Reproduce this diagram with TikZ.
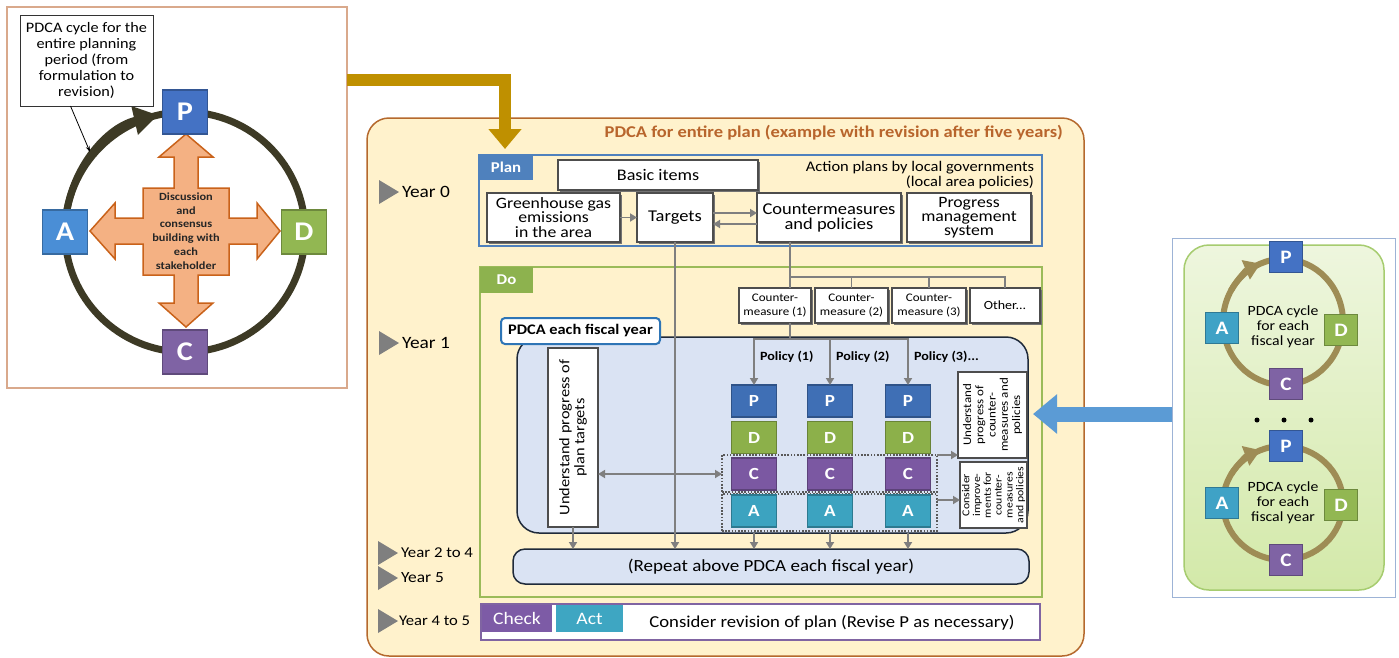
\documentclass[tikz,border=0pt]{standalone}
\usepackage{fontspec}
\setmainfont{Carlito}[FakeStretch=1.12]
\usetikzlibrary{arrows.meta,calc,shadows}
\newcommand{\myfs}[2]{\fontsize{#1}{#2}\selectfont}
\definecolor{lpborder}{HTML}{D9A98C}
\definecolor{cyccol}{HTML}{3D3A25}
\definecolor{lpcol}{HTML}{4472C4}
\definecolor{lacol}{HTML}{4A8ED6}
\definecolor{ldcol}{HTML}{92B752}
\definecolor{lccol}{HTML}{7F63A4}
\definecolor{orfill}{HTML}{F4B183}
\definecolor{orline}{HTML}{C9621A}
\definecolor{goldcol}{HTML}{BF9000}
\definecolor{panelbg}{HTML}{FFF2CC}
\definecolor{panelline}{HTML}{B5692D}
\definecolor{titlecol}{HTML}{B8652C}
\definecolor{planblue}{HTML}{4F81BD}
\definecolor{dogreen}{HTML}{9BBB59}
\definecolor{dotabcol}{HTML}{8DB24E}
\definecolor{innerfill}{HTML}{DAE3F3}
\definecolor{innerline}{HTML}{1F2A3A}
\definecolor{labelblue}{HTML}{2E75B6}
\definecolor{chkline}{HTML}{8064A2}
\definecolor{chktab}{HTML}{7D5BA6}
\definecolor{acttab}{HTML}{3EA6C2}
\definecolor{arrgray}{HTML}{7F7F7F}
\definecolor{boxline}{HTML}{4D4D4D}
\definecolor{pcol}{HTML}{3F6FB5}
\definecolor{dcol}{HTML}{8CB04A}
\definecolor{ccol}{HTML}{7B58A2}
\definecolor{acol}{HTML}{3CA3C0}
\definecolor{trigray}{HTML}{7F7F7F}
\definecolor{bluearr}{HTML}{5B9BD5}
\definecolor{routline}{HTML}{9DB3D6}
\definecolor{rgreenline}{HTML}{A6CC6F}
\definecolor{rgtop}{HTML}{EEF6DE}
\definecolor{rgbot}{HTML}{D3E9A9}
\definecolor{rcyccol}{HTML}{9E8C55}
\definecolor{racol}{HTML}{3FA2C6}
\tikzset{
 every node/.style={inner sep=0pt, outer sep=0pt},
 wbox/.style={draw=boxline, fill=white, line width=1.2pt, align=center},
 shbox/.style={wbox, drop shadow={shadow xshift=1.5pt, shadow yshift=-1.5pt, fill=black!55, opacity=1}},
 garrow/.style={draw=arrgray, line width=1.8pt, -{Triangle[length=7pt,width=8pt]}},
 gdarrow/.style={draw=arrgray, line width=1.8pt, {Triangle[length=7pt,width=8pt]}-{Triangle[length=7pt,width=8pt]}},
 gline/.style={draw=arrgray, line width=1.8pt},
 bigsq/.style={minimum width=45pt, minimum height=44pt, text=white, font=\bfseries\myfs{27}{27}, line width=1.5pt},
 colsq/.style={minimum width=45pt, minimum height=32pt, text=white, font=\bfseries\myfs{17}{17}, line width=1.2pt},
 rsq/.style={minimum width=33pt, minimum height=31pt, text=white, font=\bfseries\myfs{19}{19}, line width=1.2pt},
 tabbox/.style={anchor=north west, text=white, font=\myfs{15}{15}},
 yearlbl/.style={anchor=west, font=\myfs{17.3}{17}},
 dotbox/.style={draw=arrgray!70!black, line width=1.6pt, dash pattern=on 1.6pt off 1.6pt, minimum width=215pt, minimum height=37pt},
 cyctext/.style={align=center, font=\myfs{14.1}{15}},
 yeartri/.pic={\fill[trigray] (0,-12) -- (20,0) -- (0,12) -- cycle;},
}
\begin{document}
\begin{tikzpicture}[x=1pt,y=-1pt]
\useasboundingbox (0,0) rectangle (1399,657);

% ---------------- left panel ----------------
\node[draw=lpborder, line width=1.5pt, minimum width=340pt, minimum height=381pt] (leftpanel) at (177,197.5) {};
\draw[cyccol, line width=7pt] (185,232) circle [radius=120pt];
\draw[cyccol, line width=7pt, -{Triangle[length=24pt,width=28pt]}] (65,232) arc[start angle=180, end angle=103, radius=120pt];
\filldraw[fill=orfill, draw=orline, line width=1.5pt]
 (186,134) -- (213,157) -- (198,157) -- (198,188) -- (229,188) -- (229,218) -- (257,218) -- (257,203) -- (280,231)
 -- (257,259) -- (257,244) -- (229,244) -- (229,275) -- (198,275) -- (198,303) -- (213,303) -- (186,327)
 -- (159,303) -- (174,303) -- (174,275) -- (143,275) -- (143,244) -- (115,244) -- (115,259) -- (90,231)
 -- (115,203) -- (115,218) -- (143,218) -- (143,188) -- (174,188) -- (174,157) -- (159,157) -- cycle;
\node[align=center, font=\bfseries\myfs{11}{13.8}, text=black!85] (discuss) at (186,231) {Discussion\\and\\consensus\\building with\\each\\stakeholder};
\node[bigsq, fill=lpcol, draw=lpcol!75!black] (lp) at (185,112) {P};
\node[bigsq, fill=ldcol, draw=ldcol!75!black] (ld) at (304,232) {D};
\node[bigsq, fill=lccol, draw=lccol!75!black] (lc) at (185,352) {C};
\node[bigsq, fill=lacol, draw=lacol!75!black] (la) at (65,232) {A};
\node[draw=black!80, fill=white, line width=1pt, minimum width=133pt, minimum height=91pt, align=center, font=\myfs{14.5}{16}] (callout) at (86.5,60.5) {PDCA cycle for the\\entire planning\\period (from\\formulation to\\revision)};
\coordinate (calltip) at (90,152);
\draw[black, line width=0.8pt, -{Stealth[length=6pt,width=4pt]}] ([xshift=-16pt]callout.south) -- (calltip);

% ---------------- main panel ----------------
\node[draw=panelline, fill=panelbg, line width=1.5pt, rounded corners=22pt, minimum width=717pt, minimum height=538pt] (mainpanel) at (725.5,387) {};
\coordinate (goldstart) at (347,80);
\coordinate (goldtip) at (505,149);
\draw[goldcol, line width=12pt, -{Triangle[length=20pt,width=32pt]}] (goldstart) -| (goldtip);
\node[anchor=east, font=\bfseries\myfs{16.5}{18}, text=titlecol] (title) at (1063,133) {PDCA for entire plan (example with revision after five years)};

% year labels
\pic at (379,192) {yeartri};
\node[yearlbl] (y0) at (402,192) {Year 0};
\pic at (379,343) {yeartri};
\node[yearlbl] (y1) at (402,343) {Year 1};
\pic at (378,553) {yeartri};
\node[yearlbl, font=\myfs{15}{16}] (y24) at (401,553) {Year 2 to 4};
\pic at (378,578) {yeartri};
\node[yearlbl, font=\myfs{15.5}{16}] (y5) at (401,578) {Year 5};
\pic at (378,621) {yeartri};
\node[yearlbl, font=\myfs{14.8}{16}] (y45) at (399,621) {Year 4 to 5};

% ---------------- plan ----------------
\node[draw=planblue, line width=2.5pt, minimum width=563pt, minimum height=91pt] (planbox) at (760.5,200.5) {};
\node[tabbox, fill=planblue, minimum width=54pt, minimum height=25pt, font=\bfseries\myfs{15}{15}] (plantab) at (479,155) {Plan};
\node[shbox, minimum width=200pt, minimum height=30pt, font=\myfs{16.2}{17}] (basic) at (658,175) {Basic items};
\node[anchor=north east, align=right, font=\myfs{14.7}{15}] (actplans) at (1034,161) {Action plans by local governments\\(local area policies)};
\node[shbox, minimum width=133pt, minimum height=49pt, font=\myfs{15.8}{14.3}] (ghg) at (553.5,217.5) {Greenhouse gas\\emissions\\in the area};
\node[shbox, minimum width=76pt, minimum height=49pt, font=\myfs{16.5}{14}] (targets) at (675,217.5) {Targets};
\node[shbox, minimum width=144pt, minimum height=49pt, font=\myfs{16.5}{15}] (cm) at (829,217.5) {Countermeasures\\and policies};
\node[shbox, minimum width=124pt, minimum height=49pt, font=\myfs{15.8}{14.3}] (pms) at (969,217.5) {Progress\\management\\system};
\draw[garrow] (ghg.east) -- (targets.west);
\draw[garrow] ([yshift=4.5pt]targets.east) -- ([yshift=4.5pt]cm.west);
\draw[garrow] ([yshift=-6.5pt]cm.west) -- ([yshift=-6.5pt]targets.east);

% ---------------- do ----------------
\node[draw=dogreen, line width=2.5pt, minimum width=562pt, minimum height=330pt] (dobox) at (761,432) {};
\node[tabbox, fill=dotabcol, minimum width=53pt, minimum height=26pt, font=\bfseries\myfs{15}{15}] (dotab) at (480,267) {Do};
\node[shbox, minimum width=72pt, minimum height=35pt, font=\myfs{11.6}{14}] (cm1) at (775,305.5) {Counter-\\measure (1)};
\node[shbox, minimum width=73pt, minimum height=35pt, font=\myfs{11.6}{14}] (cm2) at (851.5,305.5) {Counter-\\measure (2)};
\node[shbox, minimum width=74pt, minimum height=35pt, font=\myfs{11.6}{14}] (cm3) at (929,305.5) {Counter-\\measure (3)};
\node[shbox, minimum width=70pt, minimum height=35pt, font=\myfs{12.5}{14}] (other) at (1005,305.5) {Other...};

\node[draw=innerline, fill=innerfill, line width=1.5pt, rounded corners=22pt, minimum width=511pt, minimum height=196pt] (inner) at (772.5,435) {};
\node[draw=labelblue, fill=white, line width=2pt, rounded corners=4pt, minimum width=159pt, minimum height=26pt, font=\bfseries\myfs{14.6}{16}] (fiscal) at (580.5,331) {PDCA each fiscal year};

\node[wbox, rotate=90, minimum width=179pt, minimum height=50pt, font=\myfs{14.6}{15}] (plantgt) at (573,437.5) {Understand progress of\\plan targets};

\node[dotbox] (cbox) at (829.5,473.5) {};
\node[dotbox] (abox) at (829.5,512.5) {};

\node[colsq, fill=pcol, draw=pcol!75!black] (p1) at (754,401) {P};
\node[colsq, fill=dcol, draw=dcol!75!black] (d1) at (754,437.5) {D};
\node[colsq, fill=ccol, draw=ccol!75!black] (c1) at (754,474) {C};
\node[colsq, fill=acol, draw=acol!75!black] (a1) at (754,511) {A};
\node[colsq, fill=pcol, draw=pcol!75!black] (p2) at (830,401) {P};
\node[colsq, fill=dcol, draw=dcol!75!black] (d2) at (830,437.5) {D};
\node[colsq, fill=ccol, draw=ccol!75!black] (c2) at (830,474) {C};
\node[colsq, fill=acol, draw=acol!75!black] (a2) at (830,511) {A};
\node[colsq, fill=pcol, draw=pcol!75!black] (p3) at (908,401) {P};
\node[colsq, fill=dcol, draw=dcol!75!black] (d3) at (908,437.5) {D};
\node[colsq, fill=ccol, draw=ccol!75!black] (c3) at (908,474) {C};
\node[colsq, fill=acol, draw=acol!75!black] (a3) at (908,511) {A};

\node[anchor=west, font=\bfseries\myfs{12.6}{13}] (pol1) at (760,357) {Policy (1)};
\node[anchor=west, font=\bfseries\myfs{12.6}{13}] (pol2) at (836,357) {Policy (2)};
\node[anchor=west, font=\bfseries\myfs{12.6}{13}] (pol3) at (914,357) {Policy (3)...};

\node[wbox, rotate=90, minimum width=86pt, minimum height=69pt, font=\myfs{11.6}{12.3}] (prog) at (992.5,415) {Understand\\progress of\\counter-\\measures and\\policies};
\node[wbox, rotate=90, minimum width=66pt, minimum height=67pt, font=\myfs{10.5}{10.8}] (cons) at (993.5,495) {Consider\\improve-\\ments for\\counter-\\measures\\and policies};

\node[draw=innerline, fill=innerfill, line width=1.5pt, rounded corners=12pt, minimum width=516pt, minimum height=35pt, font=\myfs{17}{17}] (repeat) at (771,566.5) {(Repeat above PDCA each fiscal year)};

% connectors
\draw[garrow] (targets.south) -- (targets.south |- repeat.north);
\coordinate (spine) at (790,277);
\draw[gline] (cm.south -| spine) -- (cm1.north -| spine);
\draw[gline] (spine) -| (cm2.north);
\draw[gline] (spine) -| (cm3.north);
\draw[gline] (spine) -| (other.north);
\coordinate (pb) at (790,339);
\draw[gline] (cm1.south -| pb) -- (pb);
\draw[garrow] (pb) -| (p1.north);
\draw[garrow] (pb) -| (p2.north);
\draw[garrow] (pb) -| (p3.north);
\coordinate (hlev) at (660,474);
\draw[gdarrow] (plantgt.south |- hlev) -- (cbox.west |- hlev);
\draw[garrow] (plantgt.west) -- (plantgt.west |- repeat.north);
\draw[garrow] (a1 |- inner.south) -- (a1 |- repeat.north);
\draw[garrow] (a2 |- inner.south) -- (a2 |- repeat.north);
\draw[garrow] (a3 |- inner.south) -- (a3 |- repeat.north);
\draw[garrow] (cbox.north east) -- (cbox.north east -| prog.north);
\coordinate (aarr) at ([yshift=-6pt]abox.north east);
\draw[garrow] (aarr) -- (aarr -| cons.north);

% ---------------- check / act ----------------
\node[draw=chkline, fill=white, line width=2.5pt, minimum width=559pt, minimum height=36pt] (chkrow) at (760.5,622) {};
\node[tabbox, fill=chktab, minimum width=70pt, minimum height=27pt, font=\myfs{17.5}{17}] (chk) at (482,605) {Check};
\node[tabbox, fill=acttab, minimum width=67pt, minimum height=27pt, font=\myfs{17.5}{17}] (act) at (556,605) {Act};
\node[font=\myfs{16.7}{17}] (revise) at (832,623) {Consider revision of plan (Revise P as necessary)};

% ---------------- right panel ----------------
\node[draw=routline, fill=white, line width=1pt, minimum width=223pt, minimum height=359pt] (router) at (1283.5,417.5) {};
\node[draw=rgreenline, top color=rgtop, bottom color=rgbot, line width=1.5pt, rounded corners=25pt, minimum width=200pt, minimum height=345pt] (rinner) at (1284,417.5) {};
\coordinate (bluetip) at (1033,414);
\draw[bluearr, line width=15pt, -{Triangle[length=24pt,width=38pt]}] (router.west |- bluetip) -- (bluetip);

% cycle 1
\draw[rcyccol, line width=6pt] (1283,322) ellipse [x radius=60pt, y radius=63pt];
\draw[rcyccol, line width=6pt, -{Triangle[length=16pt,width=20pt]}] (1231,290.5) arc[start angle=150, end angle=112, x radius=60pt, y radius=63pt];
\node[cyctext] (cyc1) at (1283,327) {PDCA cycle\\for each\\fiscal year};
\node[rsq, fill=lpcol, draw=lpcol!75!black] (rp1) at (1286,257) {P};
\node[rsq, fill=racol, draw=racol!75!black] (ra1) at (1222,328) {A};
\node[rsq, fill=ldcol, draw=ldcol!75!black] (rd1) at (1341,330) {D};
\node[rsq, fill=lccol, draw=lccol!75!black] (rc1) at (1286,384) {C};
% dots
\fill[black] (1257,420) circle [radius=2.5pt];
\fill[black] (1284,420) circle [radius=2.5pt];
\fill[black] (1311,420) circle [radius=2.5pt];
% cycle 2
\draw[rcyccol, line width=6pt] (1283,503) ellipse [x radius=60pt, y radius=57pt];
\draw[rcyccol, line width=6pt, -{Triangle[length=16pt,width=20pt]}] (1231,474.5) arc[start angle=150, end angle=112, x radius=60pt, y radius=57pt];
\node[cyctext] (cyc2) at (1283,503) {PDCA cycle\\for each\\fiscal year};
\node[rsq, fill=lpcol, draw=lpcol!75!black] (rp2) at (1286,446) {P};
\node[rsq, fill=racol, draw=racol!75!black] (ra2) at (1222,503) {A};
\node[rsq, fill=ldcol, draw=ldcol!75!black] (rd2) at (1341,505) {D};
\node[rsq, fill=lccol, draw=lccol!75!black] (rc2) at (1286,560) {C};
\end{tikzpicture}
\end{document}
